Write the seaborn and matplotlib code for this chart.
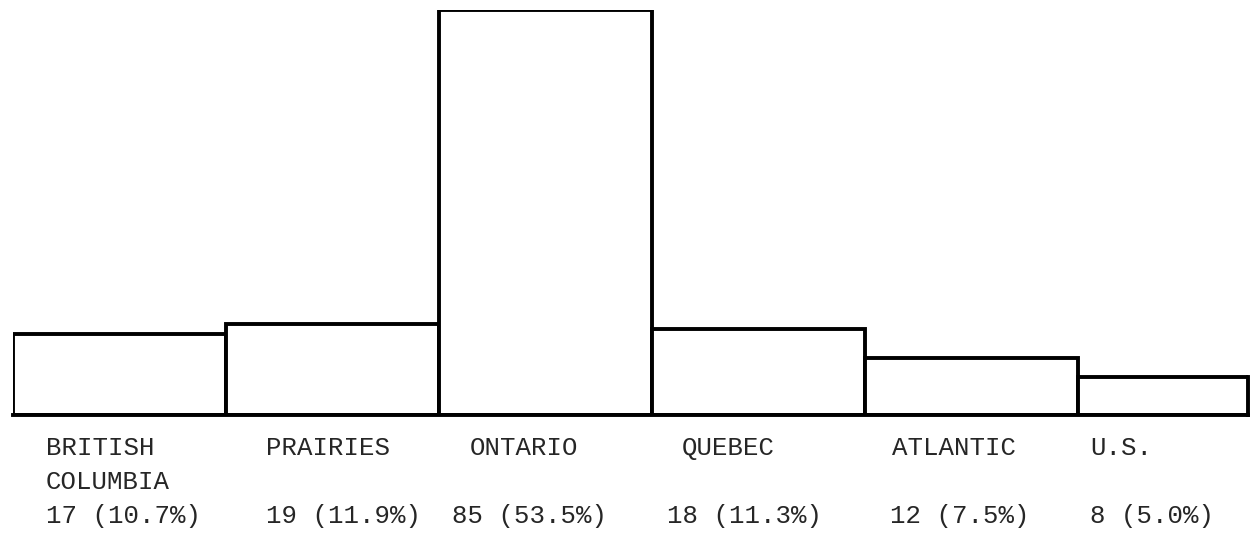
import matplotlib
matplotlib.use("Agg")
import pandas as pd
import matplotlib.pyplot as plt
import seaborn as sns

# data
regions = ["BRITISH\nCOLUMBIA", "PRAIRIES", "ONTARIO", "QUEBEC", "ATLANTIC", "U.S."]
counts = [17, 19, 85, 18, 12, 8]
percents = [10.7, 11.9, 53.5, 11.3, 7.5, 5.0]

# where each typed label starts, measured from the bar's left edge
name_offset = [0.155, 0.19, 0.145, 0.14, 0.13, 0.06]
count_offset = [0.155, 0.19, 0.06, 0.07, 0.12, 0.06]

df = pd.DataFrame({"region": regions, "count": counts})

sns.set_style("white")
plt.rcParams['font.family'] = ['Liberation Mono', 'DejaVu Sans Mono']

fig = plt.figure(figsize=(12.5, 5.35), dpi=100)
ax = fig.add_axes([0.0104, 0.2243, 0.988, 0.757])

lw = 2.8
sns.barplot(data=df, x="region", y="count", ax=ax, width=1.0,
            color="white", edgecolor="black", linewidth=lw, saturation=1)

# last bar runs off the page in the original
ax.set_xlim(-0.5, 5.3)
ax.set_ylim(0, 85)
for s in ["top", "left"]:
    ax.spines[s].set_visible(False)
ax.spines["right"].set_bounds(0, counts[-1])
for s in ["right", "bottom"]:
    ax.spines[s].set_linewidth(lw)
    ax.spines[s].set_color("black")
ax.set_xticks([])
ax.set_yticks([])
ax.set_xlabel("")
ax.set_ylabel("")

fs = 18.5
for i, (name, c, pct) in enumerate(zip(regions, counts, percents)):
    left = i - 0.5
    lines = name.split("\n")
    ax.annotate(lines[0], xy=(left + name_offset[i], 0.163),
                xycoords=("data", "figure fraction"), ha="left", va="center",
                fontsize=fs, annotation_clip=False)
    if len(lines) > 1:
        ax.annotate(lines[1], xy=(left + name_offset[i], 0.099),
                    xycoords=("data", "figure fraction"), ha="left", va="center",
                    fontsize=fs, annotation_clip=False)
    ax.annotate(f"{c} ({pct:.1f}%)", xy=(left + count_offset[i], 0.035),
                xycoords=("data", "figure fraction"), ha="left", va="center",
                fontsize=fs, annotation_clip=False)

fig.savefig("out.png", dpi=100)
